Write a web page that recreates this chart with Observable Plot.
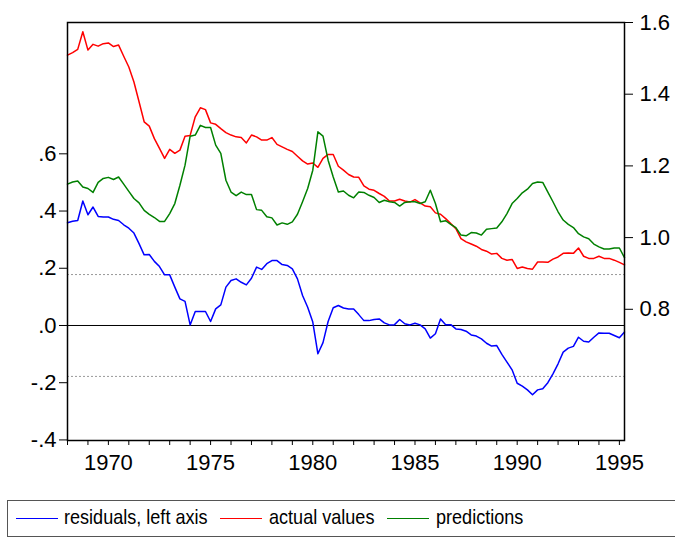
<!DOCTYPE html>
<html><head><meta charset="utf-8">
<script src="https://cdn.jsdelivr.net/npm/d3@7"></script>
<script src="https://cdn.jsdelivr.net/npm/@observablehq/plot@0.6"></script>
<style>
body{margin:0;background:#fff;font-family:"Liberation Sans",Arial,sans-serif;}
#legend{position:relative;margin-left:7px;margin-top:10px;height:37px;border:1px solid #555;border-right:none;width:668px;box-sizing:border-box;color:#000;overflow:hidden;}
.sw{position:absolute;top:17px;width:42px;height:0;border-top:1.5px solid;}
.lt{position:absolute;top:3px;font-size:21px;line-height:26px;white-space:nowrap;transform:scaleX(0.86);transform-origin:0 50%;}
</style></head>
<body><div id="chart"></div>
<div id="legend"></div>
<script>
const startYear = 1968;       // first observation 1968Q1, quarterly
const perYear = 4;
const actual = [1.509,1.516,1.525,1.574,1.523,1.539,1.534,1.541,1.543,1.533,1.537,1.506,1.476,1.434,1.379,1.323,1.311,1.276,1.249,1.221,1.246,1.235,1.244,1.283,1.285,1.337,1.362,1.357,
1.320,1.316,1.304,1.293,1.286,1.281,1.279,1.264,1.286,1.281,1.272,1.272,1.279,1.260,1.253,1.246,1.240,1.227,1.214,1.205,1.208,1.196,1.221,1.232,1.232,1.199,1.188,
1.176,1.169,1.168,1.144,1.135,1.132,1.123,1.115,1.102,1.102,1.107,1.102,1.099,1.106,1.097,1.088,1.086,1.069,1.065,1.053,1.039,1.025,0.997,0.988,0.982,0.976,0.967,
0.962,0.954,0.956,0.942,0.937,0.939,0.914,0.918,0.914,0.912,0.932,0.932,0.931,0.940,0.946,0.956,0.957,0.956,0.971,0.948,0.942,0.942,0.948,0.942,0.942,0.937,0.931,0.924];
const predicted = [1.149,1.155,1.158,1.141,1.137,1.126,1.154,1.165,1.168,1.162,1.169,1.149,1.129,1.109,1.097,1.076,1.065,1.056,1.045,1.045,1.067,1.095,1.146,1.202,1.283,1.286,1.313,1.307,
1.307,1.258,1.235,1.160,1.127,1.117,1.127,1.120,1.120,1.078,1.076,1.058,1.055,1.035,1.041,1.037,1.044,1.065,1.100,1.137,1.188,1.295,1.283,1.216,1.169,1.127,1.130,
1.118,1.111,1.127,1.126,1.118,1.112,1.098,1.104,1.100,1.098,1.088,1.098,1.100,1.100,1.095,1.100,1.132,1.095,1.044,1.047,1.037,1.028,1.007,1.005,1.014,1.013,1.007,
1.023,1.025,1.027,1.044,1.067,1.095,1.109,1.125,1.135,1.151,1.155,1.154,1.127,1.100,1.072,1.049,1.037,1.028,1.011,1.002,0.997,0.982,0.974,0.968,0.968,0.971,0.971,0.944];
const residuals = [0.359,0.364,0.367,0.435,0.387,0.414,0.381,0.379,0.379,0.371,0.367,0.352,0.340,0.323,0.286,0.247,0.248,0.224,0.206,0.177,0.177,0.134,0.093,0.084,0.002,0.049,0.049,0.049,
0.014,0.058,0.072,0.134,0.157,0.163,0.151,0.142,0.165,0.204,0.196,0.216,0.227,0.227,0.213,0.210,0.198,0.163,0.105,0.064,0.012,-0.099,-0.060,0.014,0.062,0.070,0.061,
0.058,0.058,0.038,0.017,0.017,0.021,0.023,0.009,0.002,0.003,0.021,0.006,0.002,0.008,0.002,-0.012,-0.044,-0.029,0.023,0.003,0.003,-0.012,-0.014,-0.020,-0.033,-0.037,-0.047,
-0.062,-0.072,-0.070,-0.101,-0.128,-0.155,-0.202,-0.212,-0.225,-0.242,-0.225,-0.221,-0.200,-0.169,-0.134,-0.093,-0.079,-0.073,-0.041,-0.055,-0.058,-0.041,-0.026,-0.027,-0.027,-0.035,-0.043,-0.023];
const residualBand = 0.178;   // +/- 1 s.e. dashed lines
const leftTicks = [-0.4,-0.2,0,0.2,0.4,0.6];
const rightTicks = [0.8,1.0,1.2,1.4,1.6];
const yearTicks = d3.range(1968, 1996);
const leftDomain = [-0.402, 1.059];
const rightDomain = [0.434, 1.6];
const xDomain = [1968, 1995.25];
const seriesNames = ["residuals, left axis", "actual values", "predictions"];
const seriesColors = ["#0000ff", "#ff0000", "#008000"];
const legendSwatchX = [8, 212, 379];   // legend layout (px inside legend box)
const legendTextX = [56, 261, 428];

const toLeft = d3.scaleLinear().domain(rightDomain).range(leftDomain);
const data = actual.map((v, i) => ({t: startYear + i / perYear, actual: v, predicted: predicted[i], residual: residuals[i]}));
const fmtL = d => d3.format(".1f")(d).replace(/\u2212/g, "-").replace(/^(-?)0\./, "$1.");
const fs = 22;

const chart = Plot.plot({
  width: 675, height: 490,
  marginLeft: 67, marginRight: 51, marginTop: 22, marginBottom: 50,
  style: {fontFamily: "Liberation Sans, Arial, sans-serif", fontSize: "22px", color: "#000", background: "#fff", overflow: "visible"},
  x: {domain: xDomain},
  y: {domain: leftDomain},
  marks: [
    Plot.ruleY([-residualBand, residualBand], {stroke: "#999", strokeDasharray: "2,2", strokeWidth: 1}),
    Plot.ruleY([0], {stroke: "#000", strokeWidth: 1}),
    Plot.line(data, {x: "t", y: d => toLeft(d.actual), stroke: seriesColors[1], strokeWidth: 1.5}),
    Plot.line(data, {x: "t", y: d => toLeft(d.predicted), stroke: seriesColors[2], strokeWidth: 1.5}),
    Plot.line(data, {x: "t", y: "residual", stroke: seriesColors[0], strokeWidth: 1.5}),
    Plot.axisY(leftTicks, {anchor: "left", label: null, tickSize: 8, tickPadding: 3, fontSize: fs, tickFormat: fmtL}),
    Plot.axisY(rightTicks.map(toLeft), {anchor: "right", label: null, tickSize: 8, tickPadding: 7, fontSize: fs, tickFormat: d => toLeft.invert(d).toFixed(1)}),
    Plot.axisX(yearTicks, {anchor: "bottom", label: null, tickSize: 5, tickPadding: 9, fontSize: fs, tickFormat: d => d % 5 === 0 ? String(d) : ""}),
    Plot.frame({stroke: "#000", strokeWidth: 1.5})
  ]
});
document.getElementById("chart").appendChild(chart);

const legend = document.getElementById("legend");
seriesNames.forEach((name, i) => {
  const sw = document.createElement("span");
  sw.className = "sw";
  sw.style.left = legendSwatchX[i] + "px";
  sw.style.borderTopColor = seriesColors[i];
  legend.appendChild(sw);
  const tx = document.createElement("span");
  tx.className = "lt";
  tx.style.left = legendTextX[i] + "px";
  tx.textContent = name;
  legend.appendChild(tx);
});
</script>
</body></html>
